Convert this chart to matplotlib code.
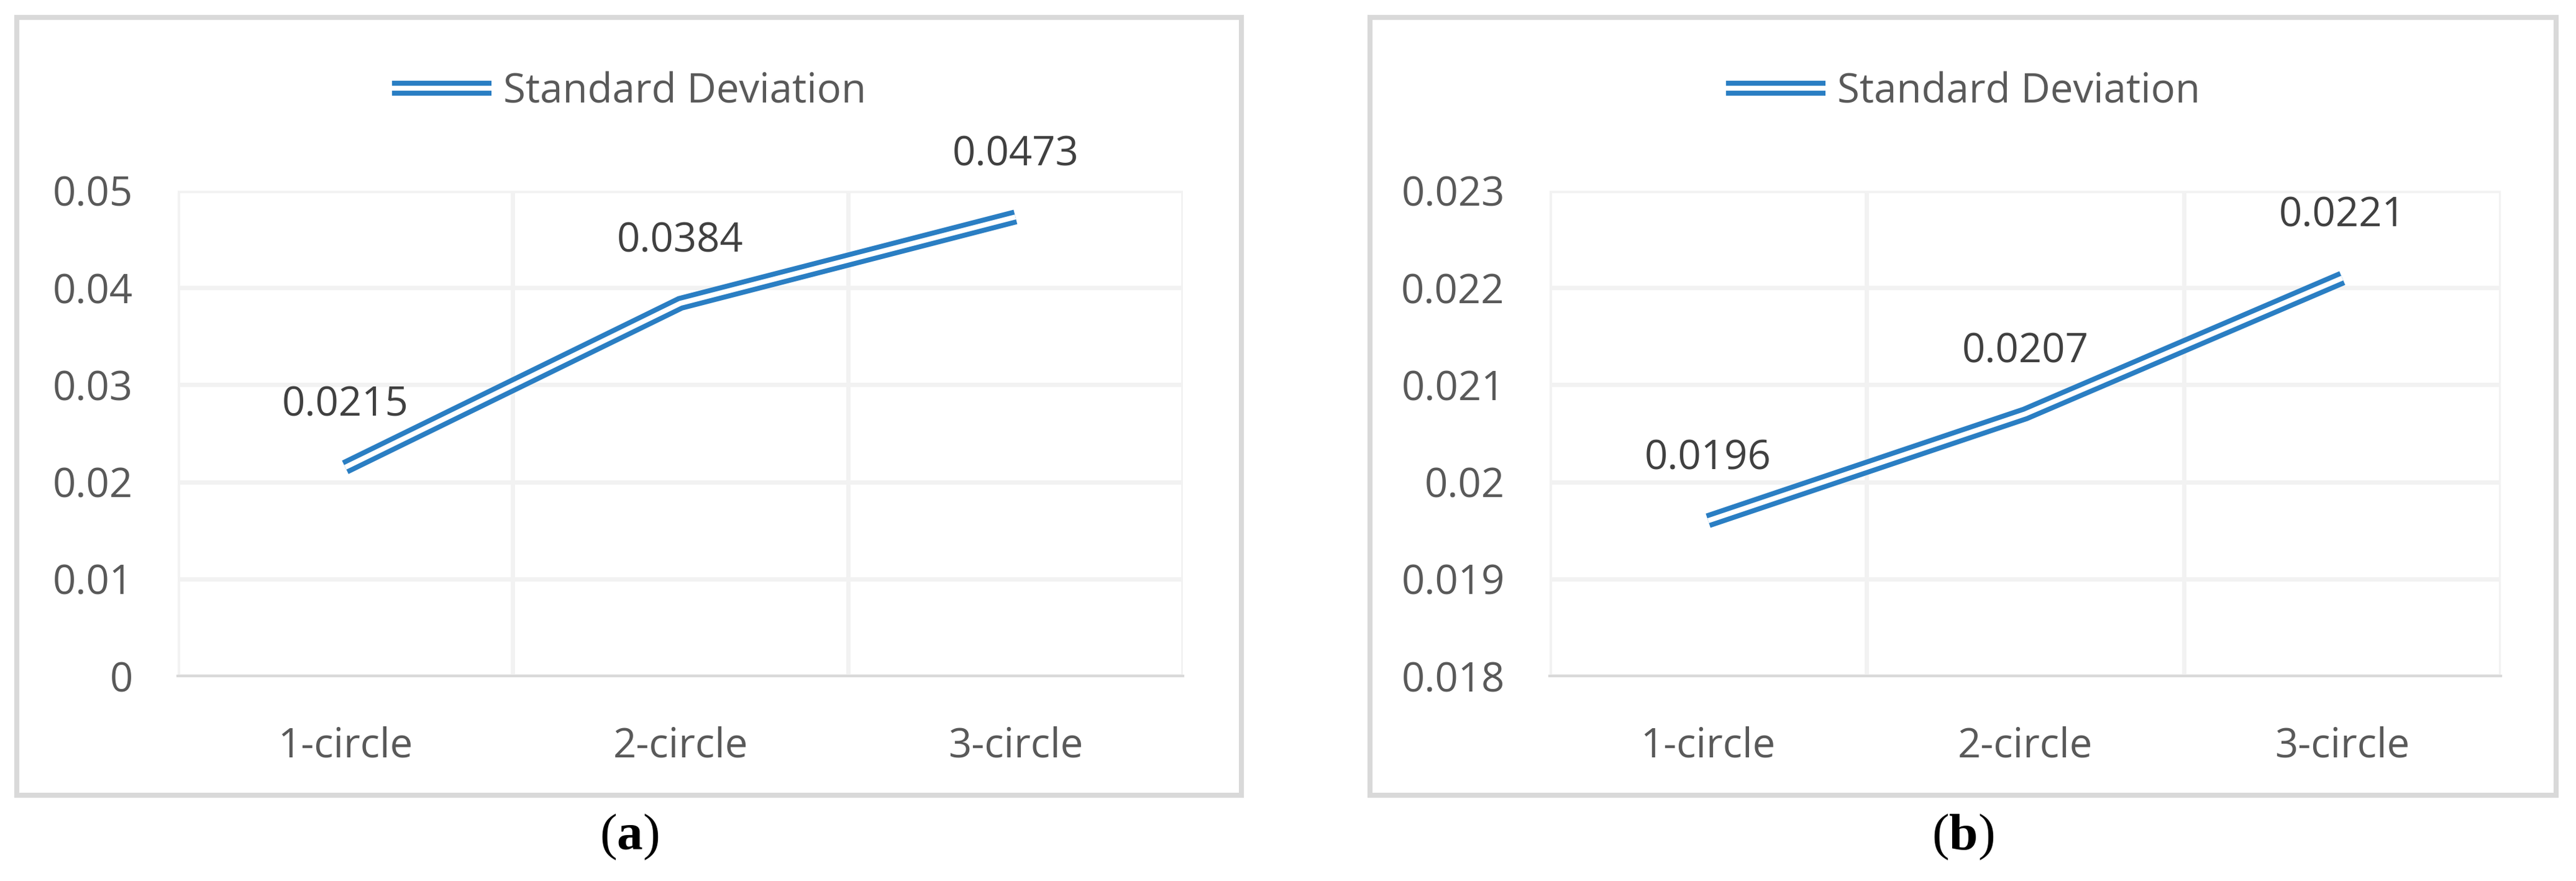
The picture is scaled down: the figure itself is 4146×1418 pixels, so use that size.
import matplotlib
matplotlib.use("Agg")
from matplotlib import pyplot as plt
from matplotlib import patheffects as pe
from matplotlib.patches import Rectangle
from matplotlib.ticker import FormatStrFormatter, FuncFormatter

categories = ["1-circle", "2-circle", "3-circle"]
std_a = [0.0215, 0.0384, 0.0473]
std_b = [0.0196, 0.0207, 0.0221]
yticks_a = [0, 0.01, 0.02, 0.03, 0.04, 0.05]
yticks_b = [0.018, 0.019, 0.02, 0.021, 0.022, 0.023]
series_name = "Standard Deviation"
captions = ["a", "b"]

W, H = 4146, 1418
DPI = 100
BLUE = "#2A7EC3"
FONT = ["Open Sans", "DejaVu Sans"]

plt.rcParams["font.family"] = FONT
plt.rcParams["mathtext.fontset"] = "custom"
plt.rcParams["mathtext.bf"] = "Liberation Serif:bold"
plt.rcParams["mathtext.rm"] = "Liberation Serif"

fig = plt.figure(figsize=(W / DPI, H / DPI), dpi=DPI)


def px(x0, y0, x1, y1):
    # pixel box (top-left origin) -> figure fraction [l, b, w, h]
    return [x0 / W, 1 - y1 / H, (x1 - x0) / W, (y1 - y0) / H]


def draw_panel(frame, plot_box, values, yticks, cap):
    l, b, w, h = px(*frame)
    fig.patches.append(Rectangle((l, b), w, h, transform=fig.transFigure,
                                 fill=False, edgecolor="#D9D9D9", linewidth=5.8))

    ax = fig.add_axes(px(*plot_box))
    xs = [i + 0.5 for i in range(len(values))]
    line, = ax.plot(xs, values, color="white", linewidth=5.8, label=series_name,
                    solid_joinstyle="miter", solid_capstyle="butt",
                    path_effects=[pe.Stroke(linewidth=17.3, foreground=BLUE,
                                            joinstyle="miter", capstyle="butt"),
                                  pe.Normal()], zorder=3)
    for x, v in zip(xs, values):
        ax.annotate("%.4f" % v, (x, v), xytext=(0, 72), textcoords="offset points",
                    ha="center", va="center", fontsize=47, color="#404040")

    ax.set_xlim(0, len(values))
    ax.set_ylim(yticks[0], yticks[-1])
    ax.set_yticks(yticks)
    ax.yaxis.set_major_formatter(FuncFormatter(lambda v, p: "%g" % round(v, 6)))
    ax.set_xticks(xs)
    ax.set_xticklabels(categories)
    ax.set_xticks(range(len(values) + 1), minor=True)
    ax.grid(True, which="major", axis="y", color="#F2F2F2", linewidth=5)
    ax.grid(True, which="minor", axis="x", color="#F2F2F2", linewidth=5)
    ax.set_axisbelow(True)
    for s in ["top", "right", "left"]:
        ax.spines[s].set_visible(False)
    ax.spines["bottom"].set_color("#D9D9D9")
    ax.spines["bottom"].set_linewidth(3)
    ax.tick_params(axis="both", which="both", length=0, labelsize=47,
                   labelcolor="#595959")
    ax.tick_params(axis="y", pad=52)
    ax.tick_params(axis="x", pad=58)

    cx = (frame[0] + frame[2]) / 2 / W
    leg = ax.legend(handles=[line], loc="center", bbox_to_anchor=(cx, 1 - 148 / H),
                    bbox_transform=fig.transFigure, frameon=False, fontsize=47,
                    handlelength=2.45, handletextpad=0.3, borderpad=0)
    for t in leg.get_texts():
        t.set_color("#595959")

    fig.text(cx, 1 - 1347 / H, r"($\mathbf{%s}$)" % cap, ha="center", va="center",
             fontsize=60, family="Liberation Serif", color="black")
    return ax


draw_panel((27, 28, 1998, 1280), (286, 307, 1904, 1088), std_a, yticks_a, captions[0])
draw_panel((2205, 28, 4114, 1280), (2494, 307, 4025, 1088), std_b, yticks_b, captions[1])

fig.savefig("out.png", dpi=DPI, facecolor="white")
